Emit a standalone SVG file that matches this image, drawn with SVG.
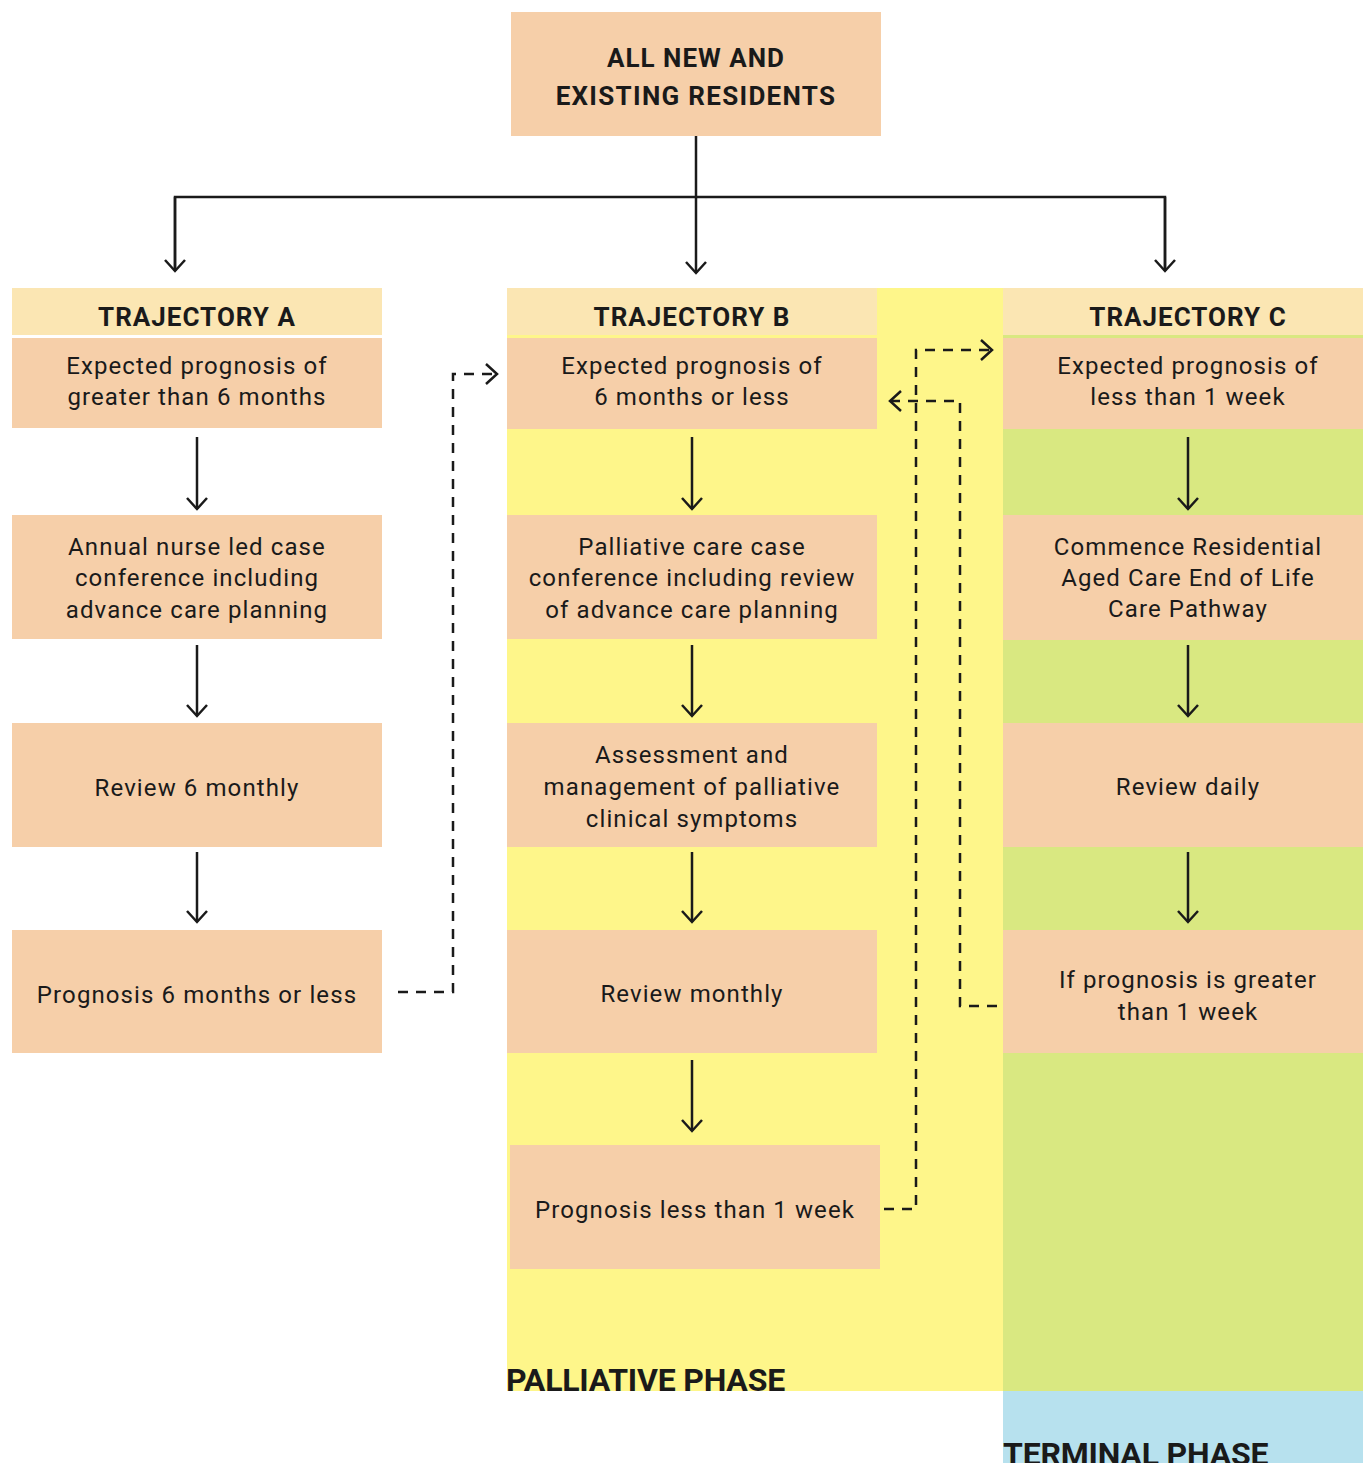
<svg xmlns="http://www.w3.org/2000/svg" width="1363" height="1463" viewBox="0 0 1363 1463">
<defs>
<style>
.box{fill:#f6cfa9}
.hdr{fill:#fbe6b3}
.t{font-family:Roboto,"Liberation Sans",sans-serif;font-size:24px;fill:#1a1a1a;text-anchor:middle;letter-spacing:1.1px}
.h{font-family:Roboto,"Liberation Sans",sans-serif;font-size:26px;font-weight:bold;fill:#1a1a1a;text-anchor:middle;letter-spacing:1px}
.ph{font-family:Roboto,"Liberation Sans",sans-serif;font-size:32px;font-weight:bold;fill:#1a1a1a;letter-spacing:-0.2px}
.ln{fill:none;stroke:#1a1a1a;stroke-width:2.5}
.dl{fill:none;stroke:#1a1a1a;stroke-width:2.5;stroke-dasharray:10 8}
</style>
<marker id="arr" markerUnits="userSpaceOnUse" markerWidth="30" markerHeight="30" viewBox="-15 -15 30 30" refX="0" refY="0" orient="auto">
<path d="M-11,-10 L0,0 L-11,10" fill="none" stroke="#1a1a1a" stroke-width="2.5"/>
</marker>
</defs>

<g id="phases">
<rect x="507" y="288" width="496" height="1103" fill="#fef68a"/>
<rect x="1003" y="288" width="360" height="1103" fill="#d9e881"/>
<rect x="1003" y="1391" width="360" height="72" fill="#b7e1ee"/>
<text class="ph" x="506" y="1391">PALLIATIVE PHASE</text>
<text class="ph" x="1003" y="1465">TERMINAL PHASE</text>
</g>

<g id="top">
<rect class="box" x="511" y="12" width="370" height="124"/>
<text class="h" x="696" y="67">ALL NEW AND</text>
<text class="h" x="696" y="105" style="letter-spacing:1.3px">EXISTING RESIDENTS</text>
</g>

<g id="trajA">
<rect class="hdr" x="12" y="288" width="370" height="47"/>
<text class="h" x="197" y="326">TRAJECTORY A</text>
<g id="A1"><rect class="box" x="12" y="338" width="370" height="90"/>
<text class="t" x="197" y="374">Expected prognosis of</text>
<text class="t" x="197" y="405">greater than 6 months</text></g>
<g id="A2"><rect class="box" x="12" y="515" width="370" height="124"/>
<text class="t" x="197" y="555">Annual nurse led case</text>
<text class="t" x="197" y="586">conference including</text>
<text class="t" x="197" y="618">advance care planning</text></g>
<g id="A3"><rect class="box" x="12" y="723" width="370" height="124"/>
<text class="t" x="197" y="796">Review 6 monthly</text></g>
<g id="A4"><rect class="box" x="12" y="930" width="370" height="123"/>
<text class="t" x="197" y="1003">Prognosis 6 months or less</text></g>
</g>

<g id="trajB">
<rect class="hdr" x="507" y="288" width="370" height="47"/>
<text class="h" x="692" y="326">TRAJECTORY B</text>
<g id="B1"><rect class="box" x="507" y="338" width="370" height="91"/>
<text class="t" x="692" y="374">Expected prognosis of</text>
<text class="t" x="692" y="405">6 months or less</text></g>
<g id="B2"><rect class="box" x="507" y="515" width="370" height="124"/>
<text class="t" x="692" y="555">Palliative care case</text>
<text class="t" x="692" y="586">conference including review</text>
<text class="t" x="692" y="618">of advance care planning</text></g>
<g id="B3"><rect class="box" x="507" y="723" width="370" height="124"/>
<text class="t" x="692" y="763">Assessment and</text>
<text class="t" x="692" y="795">management of palliative</text>
<text class="t" x="692" y="827">clinical symptoms</text></g>
<g id="B4"><rect class="box" x="507" y="930" width="370" height="123"/>
<text class="t" x="692" y="1002">Review monthly</text></g>
<g id="B5"><rect class="box" x="510" y="1145" width="370" height="124"/>
<text class="t" x="695" y="1218">Prognosis less than 1 week</text></g>
</g>

<g id="trajC">
<rect class="hdr" x="1003" y="288" width="360" height="47"/>
<text class="h" x="1188" y="326">TRAJECTORY C</text>
<g id="C1"><rect class="box" x="1003" y="338" width="360" height="91"/>
<text class="t" x="1188" y="374">Expected prognosis of</text>
<text class="t" x="1188" y="405">less than 1 week</text></g>
<g id="C2"><rect class="box" x="1003" y="515" width="360" height="125"/>
<text class="t" x="1188" y="555">Commence Residential</text>
<text class="t" x="1188" y="586">Aged Care End of Life</text>
<text class="t" x="1188" y="617">Care Pathway</text></g>
<g id="C3"><rect class="box" x="1003" y="723" width="360" height="124"/>
<text class="t" x="1188" y="795">Review daily</text></g>
<g id="C4"><rect class="box" x="1003" y="930" width="360" height="123"/>
<text class="t" x="1188" y="988">If prognosis is greater</text>
<text class="t" x="1188" y="1020">than 1 week</text></g>
</g>

<g id="connectors">
<path class="ln" d="M696,136 V273" marker-end="url(#arr)"/>
<path class="ln" d="M175,271 V197 H1165 V271" />
<path class="ln" d="M175,197 V271" marker-end="url(#arr)"/>
<path class="ln" d="M1165,197 V271" marker-end="url(#arr)"/>
<path class="ln" d="M197,437 V509" marker-end="url(#arr)"/>
<path class="ln" d="M197,645 V716" marker-end="url(#arr)"/>
<path class="ln" d="M197,852 V922" marker-end="url(#arr)"/>
<path class="ln" d="M692,437 V509" marker-end="url(#arr)"/>
<path class="ln" d="M692,645 V716" marker-end="url(#arr)"/>
<path class="ln" d="M692,852 V922" marker-end="url(#arr)"/>
<path class="ln" d="M692,1060 V1131" marker-end="url(#arr)"/>
<path class="ln" d="M1188,437 V509" marker-end="url(#arr)"/>
<path class="ln" d="M1188,645 V716" marker-end="url(#arr)"/>
<path class="ln" d="M1188,852 V922" marker-end="url(#arr)"/>
<path class="dl" d="M398,992 H453 V374 H497" marker-end="url(#arr)"/>
<path class="dl" d="M884,1209 H916 V350 H992" marker-end="url(#arr)"/>
<path class="dl" d="M997,1006 H960 V401 H890" marker-end="url(#arr)"/>
</g>
</svg>
